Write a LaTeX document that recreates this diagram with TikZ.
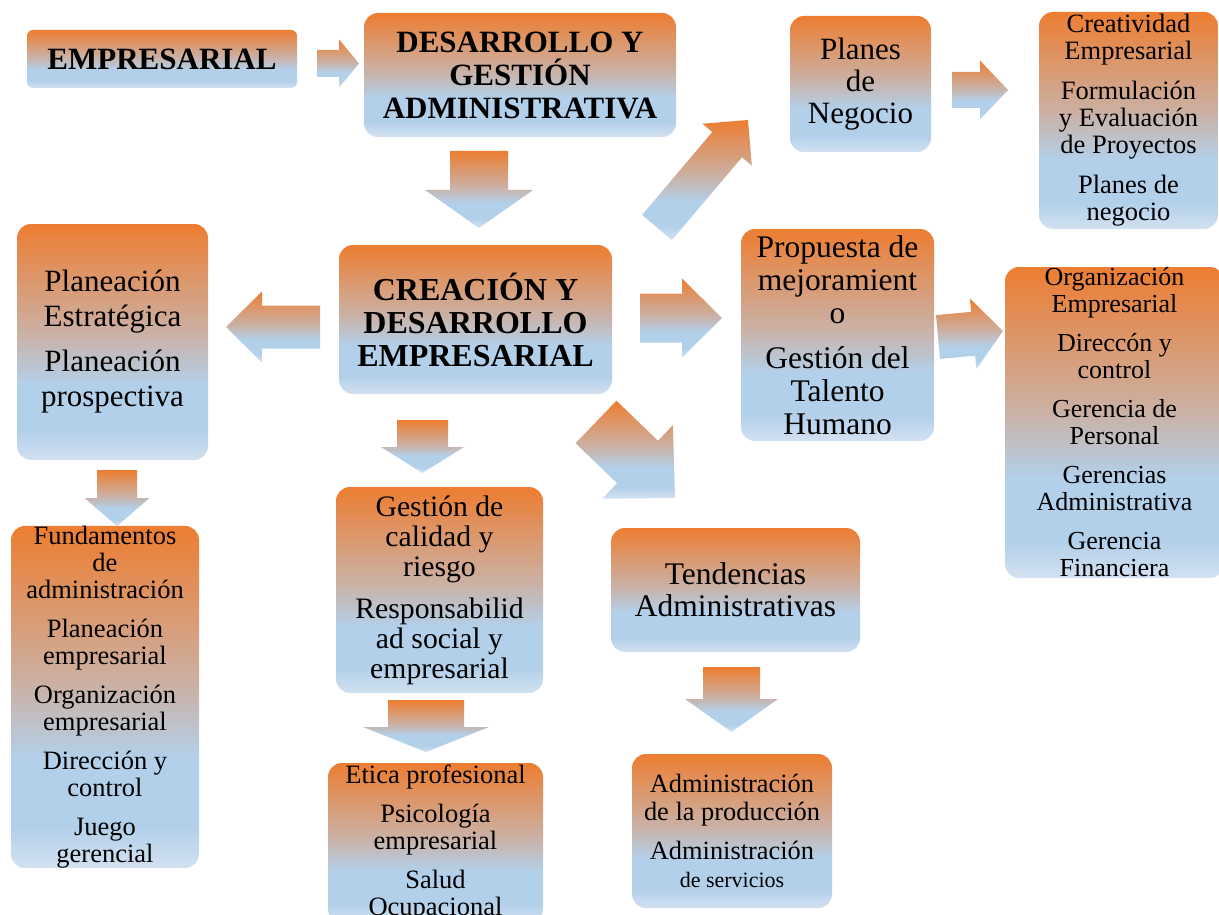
\documentclass[tikz,border=0pt]{standalone}
\usepackage{fontspec}
\setmainfont{Liberation Serif}
\usepackage{tikz}
\usetikzlibrary{calc}
\definecolor{shTop}{RGB}{237,125,49}
\definecolor{shMid}{RGB}{203,176,163}
\definecolor{shBlue}{RGB}{179,208,234}
\definecolor{shBot}{RGB}{210,225,241}
\pgfdeclareverticalshading{orgblue}{100bp}{color(0bp)=(shBot); color(25bp)=(shBot); color(31bp)=(shBlue); color(41bp)=(shBlue); color(52bp)=(shMid); color(75bp)=(shTop); color(100bp)=(shTop)}
\newcommand{\blockarrow}[5]{%
\coordinate (hb) at ($(#2)!#5!(#1)$);
\shade[shading=orgblue] ($(#1)!#3!90:(#2)$) -- ($(hb)!#3!90:(#2)$) -- ($(hb)!#4!90:(#2)$) -- (#2) -- ($(hb)!#4!-90:(#2)$) -- ($(hb)!#3!-90:(#2)$) -- ($(#1)!#3!-90:(#2)$) -- cycle;}

\begin{document}
\begin{tikzpicture}[x=1pt,y=-1pt,
  box/.style={rectangle,rounded corners=14pt,shade,shading=orgblue,align=center,inner sep=0pt,text=black},
  head/.style={font=\bfseries\fontsize{31}{33}\selectfont},
  big/.style={font=\fontsize{31.5}{33}\selectfont},
  small/.style={font=\fontsize{26.5}{27}\selectfont}]
\useasboundingbox (0,0) rectangle (1219,915);
\clip (0,0) rectangle (1219,915);
\node[box,head,rounded corners=6pt,minimum width=270pt,minimum height=58pt] (emp) at (162,59) {EMPRESARIAL};
\node[box,head,minimum width=312pt,minimum height=124pt] (dga) at (520,75) {DESARROLLO Y\\GESTIÓN\\ADMINISTRATIVA};
\node[box,big,font=\fontsize{31}{32}\selectfont,minimum width=141pt,minimum height=136pt] (pln) at (860.5,84) {Planes\\de\\Negocio};
\node[box,small,minimum width=179pt,minimum height=217pt] (cre) at (1128.5,120.5) {Creatividad\\Empresarial\\[13pt]Formulación\\y Evaluación\\de Proyectos\\[13pt]Planes de\\negocio};
\node[box,big,font=\fontsize{31}{35}\selectfont,minimum width=191pt,minimum height=236pt] (pes) at (112.5,342) {Planeación\\Estratégica\\[10pt]Planeación\\prospectiva};
\node[box,head,font=\bfseries\fontsize{32}{33}\selectfont,minimum width=273pt,minimum height=149pt] (cde) at (475.5,319.5) {CREACIÓN Y\\DESARROLLO\\EMPRESARIAL};
\node[box,big,minimum width=193pt,minimum height=212pt] (pro) at (837.5,335) {Propuesta de\\mejoramient\\o\\[12pt]Gestión del\\Talento\\Humano};
\node[box,small,font=\fontsize{26}{27}\selectfont,minimum width=219pt,minimum height=311pt] (org) at (1114.5,422.5) {Organización\\Empresarial\\[12pt]Direccón y\\control\\[12pt]Gerencia de\\Personal\\[12pt]Gerencias\\Administrativa\\[12pt]Gerencia\\Financiera};
\node[box,small,minimum width=188pt,minimum height=342pt] (fun) at (105,697) {Fundamentos\\de\\administración\\[12pt]Planeación\\empresarial\\[12pt]Organización\\empresarial\\[12pt]Dirección y\\control\\[12pt]Juego\\gerencial};
\node[box,font=\fontsize{29.7}{30}\selectfont,minimum width=207pt,minimum height=206pt] (gca) at (439.5,590) {Gestión de\\calidad y\\riesgo\\[12pt]Responsabilid\\ad social y\\empresarial};
\node[box,small,minimum width=215pt,minimum height=160pt] (eti) at (435.5,843) {Etica profesional\\[12pt]Psicología\\empresarial\\[12pt]Salud\\Ocupacional};
\node[box,big,font=\fontsize{31.5}{32}\selectfont,minimum width=249pt,minimum height=124pt] (ten) at (735.5,590) {Tendencias\\Administrativas};
\node[box,small,font=\fontsize{26.4}{28}\selectfont,minimum width=200pt,minimum height=154pt] (adm) at (732,831) {Administración\\de la producción\\[11pt]Administración\\{\fontsize{22}{22}\selectfont de servicios}};
\coordinate (a1s) at (317,63.5);   \coordinate (a1e) at (359,63.5);
\coordinate (a2s) at (479,151);    \coordinate (a2e) at (479,228);
\coordinate (a3s) at (657,227.5);  \coordinate (a3e) at (748,120);
\coordinate (a4s) at (952,90);     \coordinate (a4e) at (1008,90);
\coordinate (a5s) at (320,327);    \coordinate (a5e) at (226,327);
\coordinate (a6s) at (640,318);    \coordinate (a6e) at (722,318);
\coordinate (a7s) at (938,337);    \coordinate (a7e) at (1003,331);
\coordinate (a8s) at (117,470);    \coordinate (a8e) at (117,526);
\coordinate (a9s) at (422.5,420);  \coordinate (a9e) at (422.5,473);
\coordinate (a10s) at (596,422);   \coordinate (a10e) at (675,498);
\coordinate (a11s) at (426,700);   \coordinate (a11e) at (426,752);
\coordinate (a12s) at (731.5,667); \coordinate (a12e) at (731.5,732);
\blockarrow{a1s}{a1e}{13.5pt}{24pt}{20pt}
\blockarrow{a2s}{a2e}{29pt}{54pt}{38pt}
\blockarrow{a3s}{a3e}{19.5pt}{32.4pt}{32.3pt}
\blockarrow{a4s}{a4e}{18pt}{29.5pt}{28pt}
\blockarrow{a5s}{a5e}{21.5pt}{35.5pt}{36pt}
\blockarrow{a6s}{a6e}{24.5pt}{39.5pt}{40pt}
\blockarrow{a7s}{a7e}{22pt}{35.5pt}{30pt}
\blockarrow{a8s}{a8e}{20pt}{32.5pt}{28pt}
\blockarrow{a9s}{a9e}{25.5pt}{41.5pt}{26pt}
\blockarrow{a10s}{a10e}{29.5pt}{51pt}{52pt}
\blockarrow{a11s}{a11e}{38pt}{63pt}{25pt}
\blockarrow{a12s}{a12e}{28.5pt}{46.5pt}{33pt}
\end{tikzpicture}
\end{document}
